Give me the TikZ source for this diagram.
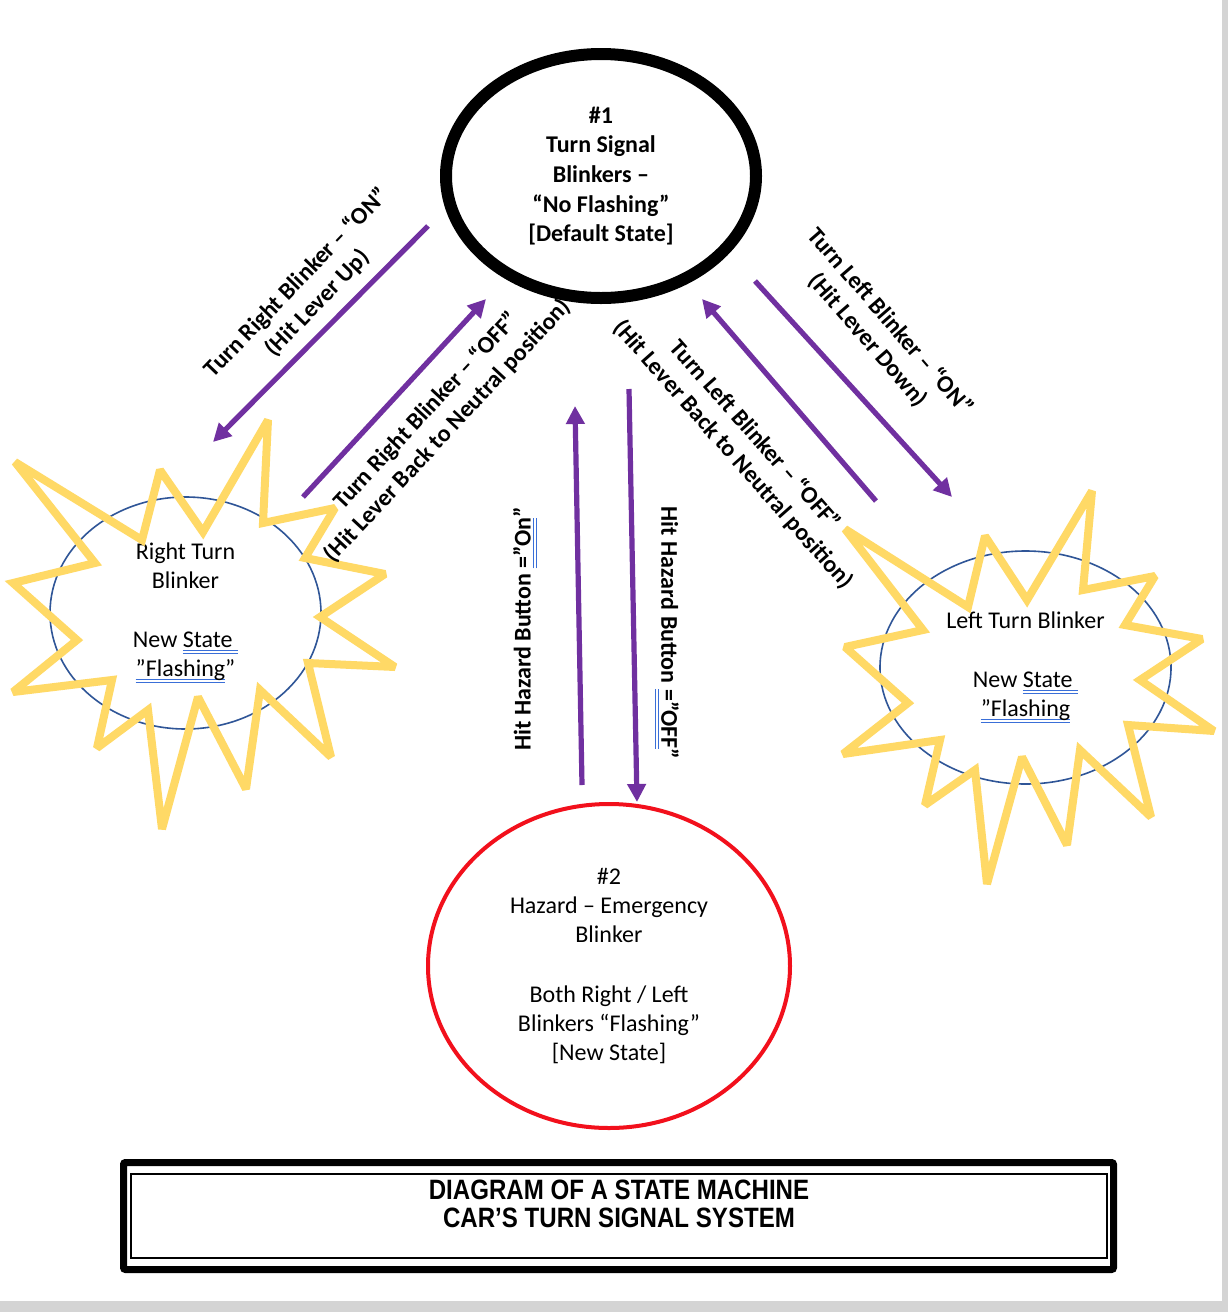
\documentclass[tikz,border=0pt]{standalone}
\usepackage{fontspec}
\setmainfont{Carlito}
\newfontfamily\titlefont[FakeStretch=0.86]{Liberation Sans}
\usetikzlibrary{shapes.geometric,arrows.meta}
\definecolor{wpurple}{HTML}{7030A0}
\definecolor{wyellow}{HTML}{FFD966}
\definecolor{wblue}{HTML}{2F5597}
\definecolor{ulblue}{HTML}{3A6FD8}
\definecolor{wred}{HTML}{F2101C}
\definecolor{pagegray}{HTML}{D4D4D4}
\newsavebox\dulbox
\newcommand\dul[1]{\sbox\dulbox{#1}\leavevmode\rlap{\color{ulblue}\rule[-1.7pt]{\wd\dulbox}{0.6pt}}\rlap{\color{ulblue}\rule[-3.2pt]{\wd\dulbox}{0.6pt}}\usebox\dulbox}
\begin{document}
\begin{tikzpicture}[x=0.5pt,y=-0.5pt,
  font=\fontsize{12pt}{14.6pt}\selectfont,
  state/.style={ellipse, inner sep=0pt, align=center},
  starline/.style={draw=wyellow, line width=4pt, line join=miter, miter limit=2.2},
  trans/.style={draw=wpurple, line width=2.6pt, -{Triangle[length=9pt,width=9pt]}},
  lbl/.style={font=\bfseries\fontsize{12pt}{14.6pt}\selectfont, align=center, inner sep=0pt}]
\useasboundingbox (0,0) rectangle (1228,1312);
\fill[white] (0,0) rectangle (1228,1312);
\fill[pagegray] (1222,0) rectangle (1228,1312);
\fill[pagegray] (0,1301) rectangle (1228,1312);

% state 1
\node[state, draw=black, line width=6pt, minimum width=155pt, minimum height=122pt,
  font=\bfseries\fontsize{12pt}{14.8pt}\selectfont] (s1) at (601,176)
  {\#1\\Turn Signal\\Blinkers --\\“No Flashing”\\{}[Default State]};

% right turn blinker
\node[state, draw=wblue, line width=0.8pt, minimum width=135.5pt, minimum height=116pt] (sr) at (185.5,613)
  {Right Turn\\Blinker\\[15pt]New \dul{State }\\\dul{”Flashing}”};
\draw[starline] (268,420) -- (263,523) -- (335,508) -- (305,558) -- (385,574) -- (320,617)
  -- (395,667) -- (308,663) -- (331,757) -- (260,690) -- (246,789) -- (198,697)
  -- (162,829) -- (148,710) -- (97,748) -- (112,680) -- (13,692) -- (77,640)
  -- (13,583) -- (95,563) -- (15,462) -- (142,540) -- (160,470) -- (203,532) -- cycle;

% left turn blinker
\node[state, draw=wblue, line width=0.8pt, minimum width=145.5pt, minimum height=116.5pt] (sl) at (1025.5,667.5)
  {Left Turn Blinker\\[15pt]New \dul{State }\\\dul{”Flashing}};
\draw[starline] (1092,491) -- (1083,590) -- (1155,576) -- (1125,625) -- (1202,639) -- (1140,680)
  -- (1214,731) -- (1128,725) -- (1151,817) -- (1080,750) -- (1067,845) -- (1022,757)
  -- (987,884) -- (975,770) -- (925,805) -- (940,740) -- (843,754) -- (908,703)
  -- (845,647) -- (923,630) -- (845,529) -- (968,607) -- (985,536) -- (1027,600) -- cycle;

% hazard state
\node[state, draw=wred, line width=2pt, minimum width=181pt, minimum height=162pt] (s2) at (609,966)
  {\#2\\Hazard -- Emergency\\Blinker\\[15pt]Both Right / Left\\Blinkers “Flashing”\\{}[New State]};

% connectors
\coordinate (rOnA) at (428,226);  \coordinate (rOnB) at (213,442);
\coordinate (rOffA) at (303,497); \coordinate (rOffB) at (486,299);
\coordinate (hOnA) at (582,785);  \coordinate (hOnB) at (575,406);
\coordinate (hOffA) at (629,389); \coordinate (hOffB) at (637,802);
\coordinate (lOffA) at (876,501); \coordinate (lOffB) at (702,299);
\coordinate (lOnA) at (755,281);  \coordinate (lOnB) at (952,497);
\draw[trans] (rOnA) -- (rOnB);
\draw[trans] (rOffA) -- (rOffB);
\draw[trans] (hOnA) -- (hOnB);
\draw[trans] (hOffA) -- (hOffB);
\draw[trans] (lOffA) -- (lOffB);
\draw[trans] (lOnA) -- (lOnB);

% labels
\node[lbl, rotate=46] (lRon) at (307,293) {Turn Right Blinker -- “ON”\\(Hit Lever Up)};
\node[lbl, rotate=47] (lRoff) at (437,421) {Turn Right Blinker -- “OFF”\\(Hit Lever Back to Neutral position)};
\node[lbl, rotate=-48.5] (lLoff) at (744,445) {Turn Left Blinker -- “OFF”\\(Hit Lever Back to Neutral position)};
\node[lbl, rotate=-49] (lLon) at (879,331) {Turn Left Blinker -- “ON”\\(Hit Lever Down)};
\node[lbl, rotate=90] (lHon) at (525,629) {Hit Hazard Button \dul{=”On}”};
\node[lbl, rotate=-90] (lHoff) at (667,633) {Hit Hazard Button \dul{=”OFF}”};

% title box
\draw[line width=3.5pt, rounded corners=1pt] (123.5,1162.5) rectangle (1113.5,1269.5);
\draw[line width=1pt] (131,1174) rectangle (1107,1258);
\node[font=\titlefont\bfseries\fontsize{14pt}{14pt}\selectfont, align=center] (title) at (619,1204)
  {DIAGRAM OF A STATE MACHINE\\CAR’S TURN SIGNAL SYSTEM};
\end{tikzpicture}
\end{document}
